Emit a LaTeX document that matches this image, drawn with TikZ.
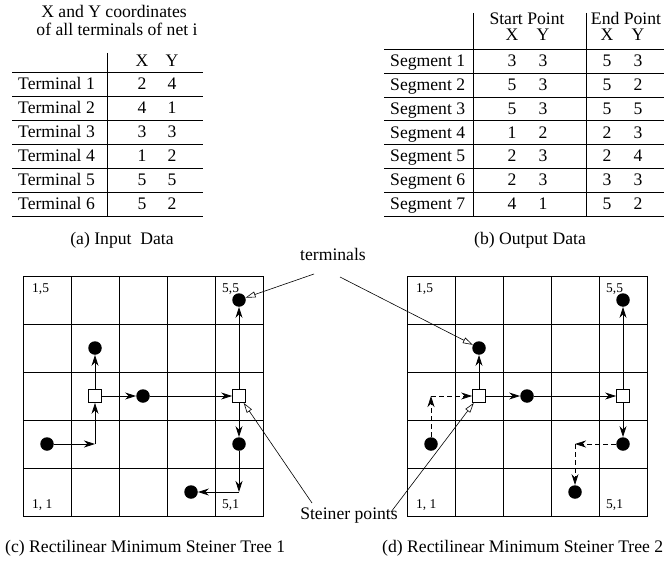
\documentclass[tikz,border=0pt]{standalone}
\usepackage{fontspec}
\setmainfont{Liberation Serif}
\usetikzlibrary{arrows.meta}

\tikzset{
  txt/.style={font=\fontsize{17.7}{20}\selectfont, inner sep=0pt, anchor=base},
  txtw/.style={txt, anchor=base west},
  lbl/.style={font=\fontsize{13.5}{15}\selectfont, inner sep=0pt, anchor=base west},
  term/.style={circle, fill=black, minimum size=13.5bp, inner sep=0pt},
  stp/.style={rectangle, draw, fill=white, minimum size=13bp, inner sep=0pt, line width=0.8bp},
  wire/.style={line width=0.8bp, -{Stealth[length=11bp,width=7bp,inset=3.5bp]}},
  dwire/.style={wire, dash pattern=on 5bp off 3bp},
  callout/.style={line width=0.6bp, -{Triangle[open,length=10bp,width=6bp,fill=white]}},
  rule/.style={line width=0.8bp},
  gridline/.style={line width=1bp},
}

\begin{document}
\begin{tikzpicture}[x=1bp,y=-1bp]
\useasboundingbox (0,0) rectangle (665,567);

% ---------- (a) input table ----------
\node[txt] (ta1) at (114,18) {X and Y coordinates};
\node[txt] (ta2) at (117,36) {of all terminals of net i};
\node[txt] (tahx) at (142,67) {X};
\node[txt] (tahy) at (172,67) {Y};
\foreach \k/\xx/\yy [count=\r from 0] in {1/2/4, 2/4/1, 3/3/3, 4/1/2, 5/5/5, 6/5/2} {
  \node[txtw] (tan\k) at (18,89.5+24*\r) {Terminal \k};
  \node[txt] (tax\k) at (142,89.5+24*\r) {\xx};
  \node[txt] (tay\k) at (172,89.5+24*\r) {\yy};
}
\foreach \yl in {72,96,120,144,168,192,216} \draw[rule] (12,\yl+0.5) -- (203,\yl+0.5);
\draw[rule] (107.5,53) -- (107.5,216);
\node[txt] (capa) at (122,244) {(a) Input\ \ Data};

% ---------- (b) output table ----------
\node[txt] (tbs) at (527,25) {Start Point};
\node[txt] (tbe) at (626,25) {End Point};
\node[txt] (tbsx) at (512,41) {X};
\node[txt] (tbsy) at (543,41) {Y};
\node[txt] (tbex) at (607,41) {X};
\node[txt] (tbey) at (638,41) {Y};
\foreach \k/\a/\b/\c/\d [count=\r from 0] in {1/3/3/5/3, 2/5/3/5/2, 3/5/3/5/5, 4/1/2/2/3, 5/2/3/2/4, 6/2/3/3/3, 7/4/1/5/2} {
  \node[txtw] (tbn\k) at (390,66.5+23.85*\r) {Segment \k};
  \node[txt] (tba\k) at (512,66.5+23.85*\r) {\a};
  \node[txt] (tbb\k) at (543,66.5+23.85*\r) {\b};
  \node[txt] (tbc\k) at (607,66.5+23.85*\r) {\c};
  \node[txt] (tbd\k) at (638,66.5+23.85*\r) {\d};
}
\foreach \yl in {49,73,97,120,144,168,192,216} \draw[rule] (384,\yl+0.5) -- (664,\yl+0.5);
\draw[rule] (473.5,13) -- (473.5,216);
\draw[rule] (586.5,13) -- (586.5,216);
\node[txt] (capb) at (530,244) {(b) Output Data};

% ---------- grids ----------
\foreach \L in {23,407} {
  \foreach \i in {0,...,5} {
    \draw[gridline] (\L+48*\i+0.5,276) -- (\L+48*\i+0.5,517);
    \draw[gridline] (\L,276.5+48*\i) -- (\L+241,276.5+48*\i);
  }
  \node[lbl] at (\L+9,292) {1,5};
  \node[lbl] at (\L+199,292) {5,5};
  \node[lbl] at (\L+9,508) {1, 1};
  \node[lbl] at (\L+199,508) {5,1};
}

% ---------- (c) tree 1 ----------
\node[term] (c12) at (47,444) {};
\node[term] (c24) at (95,348) {};
\node[term] (c33) at (143,396) {};
\node[term] (c55) at (239,300) {};
\node[term] (c52) at (239,444) {};
\node[term] (c41) at (191,492) {};
\node[stp] (cs23) at (95,396) {};
\node[stp] (cs53) at (239,396) {};
\coordinate (cc22) at (95,444);
\coordinate (cc51) at (239,492);
\draw[wire] (c12) -- (cc22);
\draw[wire] (cc22) -- (cs23);
\draw[wire] (cs23) -- (c24);
\draw[wire] (cs23) -- (c33);
\draw[wire] (c33) -- (cs53);
\draw[wire] (cs53) -- (c55);
\draw[wire] (cs53) -- (c52);
\draw[wire] (c52) -- (cc51);
\draw[wire] (cc51) -- (c41);

% ---------- (d) tree 2 ----------
\node[term] (d12) at (431,444) {};
\node[term] (d24) at (479,348) {};
\node[term] (d33) at (527,396) {};
\node[term] (d55) at (623,300) {};
\node[term] (d52) at (623,444) {};
\node[term] (d41) at (575,492) {};
\node[stp] (ds23) at (479,396) {};
\node[stp] (ds53) at (623,396) {};
\coordinate (dc13) at (431,396);
\coordinate (dc42) at (575,444);
\draw[dwire] (d12) -- (dc13);
\draw[dwire] (dc13) -- (ds23);
\draw[wire] (ds23) -- (d24);
\draw[wire] (ds23) -- (d33);
\draw[wire] (d33) -- (ds53);
\draw[wire] (ds53) -- (d55);
\draw[wire] (ds53) -- (d52);
\draw[dwire] (d52) -- (dc42);
\draw[dwire] (dc42) -- (d41);

% ---------- callouts ----------
\node[txt] (termlbl) at (333,260) {terminals};
\node[txt] (stlbl) at (349,519) {Steiner points};
\coordinate (tA) at (314,274);
\coordinate (tB) at (340,277);
\coordinate (sA) at (312,503);
\coordinate (sB) at (391,512);
\draw[callout] (tA) -- (c55);
\draw[callout] (tB) -- (d24);
\draw[callout] (sA) -- (cs53);
\draw[callout] (sB) -- (ds23);

% ---------- captions ----------
\node[txtw] (capc) at (5,552) {(c) Rectilinear Minimum Steiner Tree 1};
\node[txtw] (capd) at (382,552) {(d) Rectilinear Minimum Steiner Tree 2};
\end{tikzpicture}
\end{document}
